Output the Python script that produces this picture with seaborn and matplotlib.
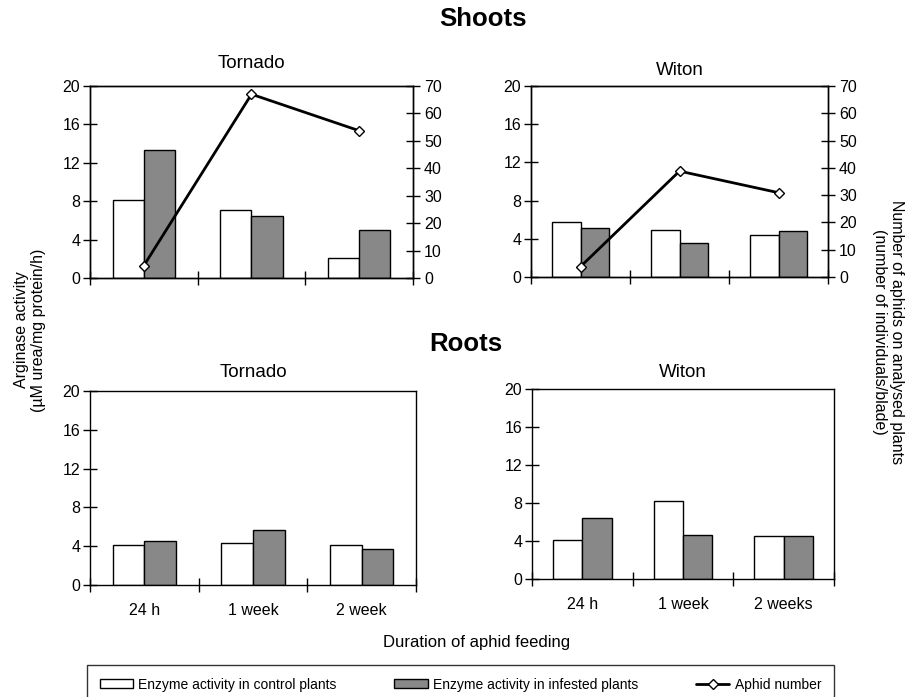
import pandas as pd
import numpy as np
import matplotlib
matplotlib.use("Agg")
import matplotlib.pyplot as plt
import seaborn as sns
from matplotlib.patches import Patch
from matplotlib.lines import Line2D

# durations on the x axis
durations_left = ["24 h", "1 week", "2 week"]
durations_right = ["24 h", "1 week", "2 weeks"]

# arginase activity (uM urea/mg protein/h)
shoots_tornado_control = [8.1, 7.1, 2.1]
shoots_tornado_infested = [13.3, 6.5, 5.0]
shoots_witon_control = [5.8, 4.9, 4.4]
shoots_witon_infested = [5.1, 3.6, 4.8]
roots_tornado_control = [4.1, 4.3, 4.1]
roots_tornado_infested = [4.5, 5.7, 3.7]
roots_witon_control = [4.1, 8.2, 4.5]
roots_witon_infested = [6.4, 4.6, 4.5]

# aphid number (individuals/blade), shoots only
aphids_tornado = [4.5, 67, 53.7]
aphids_witon = [3.8, 38.8, 30.9]

treatments = ["control", "infested"]
palette = {"control": "white", "infested": "#888888"}

sns.set_theme(style="white")
plt.rcParams["font.family"] = ["Liberation Sans", "DejaVu Sans"]
plt.rcParams["axes.edgecolor"] = "black"
plt.rcParams["axes.linewidth"] = 1.0
plt.rcParams["text.color"] = "black"
plt.rcParams["axes.labelcolor"] = "black"
plt.rcParams["xtick.color"] = "black"
plt.rcParams["ytick.color"] = "black"


def make_df(labels, control, infested):
    rows = []
    for lab, c, i in zip(labels, control, infested):
        rows.append({"duration": lab, "treatment": "control", "activity": c})
        rows.append({"duration": lab, "treatment": "infested", "activity": i})
    return pd.DataFrame(rows)


def draw_panel(ax, labels, control, infested, title, title_pad, show_labels):
    df = make_df(labels, control, infested)
    sns.barplot(data=df, x="duration", y="activity", hue="treatment",
                order=labels, hue_order=treatments, palette=palette,
                width=0.58, edgecolor="black", linewidth=1.0,
                errorbar=None, legend=False, ax=ax)
    ax.set_xlim(-0.5, 2.5)
    ax.set_ylim(0, 20)
    ax.set_yticks([0, 4, 8, 12, 16, 20])
    ax.set_xticks([-0.5, 0.5, 1.5, 2.5])
    ax.set_xticklabels([])
    ax.tick_params(axis="both", which="major", direction="inout", length=10,
                   width=1, color="black", labelcolor="black",
                   labelsize=11.5, pad=2, left=True, bottom=True)
    if show_labels:
        ax.set_xticks([0, 1, 2], labels, minor=True)
        ax.tick_params(axis="x", which="minor", length=0, pad=13,
                       labelsize=11.5, labelcolor="black", bottom=True)
    ax.set_xlabel("")
    ax.set_ylabel("")
    ax.set_title(title, fontsize=13.5, pad=title_pad, color="black")
    for s in ax.spines.values():
        s.set_visible(True)
        s.set_color("black")


def draw_aphids(ax, aphids):
    ax2 = ax.twinx()
    sns.lineplot(x=[0, 1, 2], y=aphids, ax=ax2, color="black", linewidth=2,
                 marker="D", markersize=5.5, markerfacecolor="white",
                 markeredgecolor="black", markeredgewidth=1)
    ax2.set_xlim(-0.5, 2.5)
    ax2.set_ylim(0, 70)
    ax2.set_yticks(range(0, 71, 10))
    ax2.tick_params(axis="y", direction="inout", length=10, width=1,
                    color="black", labelcolor="black", labelsize=11.5, pad=3,
                    right=True)
    ax2.set_ylabel("")
    return ax2


W, H = 915, 697
fig = plt.figure(figsize=(W / 100, H / 100), dpi=100)


def box(x0, x1, ytop, ybot):
    return [x0 / W, 1 - ybot / H, (x1 - x0) / W, (ybot - ytop) / H]


ax_st = fig.add_axes(box(90, 413, 86, 278))
ax_sw = fig.add_axes(box(531, 828, 86, 277))
ax_rt = fig.add_axes(box(90, 416, 391, 585))
ax_rw = fig.add_axes(box(532, 834, 389, 579))

draw_panel(ax_st, durations_left, shoots_tornado_control, shoots_tornado_infested,
           "Tornado", 13, False)
draw_aphids(ax_st, aphids_tornado)
draw_panel(ax_sw, durations_right, shoots_witon_control, shoots_witon_infested,
           "Witon", 8, False)
draw_aphids(ax_sw, aphids_witon)
draw_panel(ax_rt, durations_left, roots_tornado_control, roots_tornado_infested,
           "Tornado", 10, True)
draw_panel(ax_rw, durations_right, roots_witon_control, roots_witon_infested,
           "Witon", 8.5, True)

fig.text(483 / W, 1 - 19 / H, "Shoots", ha="center", va="center",
         fontsize=18.5, fontweight="bold")
fig.text(466 / W, 1 - 344 / H, "Roots", ha="center", va="center",
         fontsize=18.5, fontweight="bold")
fig.text(30 / W, 1 - 330 / H, "Arginase activity\n(µM urea/mg protein/h)",
         rotation=90, ha="center", va="center", fontsize=11.5, linespacing=1.15)
fig.text(888 / W, 1 - 332 / H,
         "Number of aphids on analysed plants\n(number of individuals/blade)",
         rotation=270, ha="center", va="center", fontsize=11.5, linespacing=1.15)
fig.text(477 / W, 1 - 643 / H, "Duration of aphid feeding", ha="center",
         va="center", fontsize=12)

handles = [
    Patch(facecolor="white", edgecolor="black", linewidth=1,
          label="Enzyme activity in control plants"),
    Patch(facecolor="#888888", edgecolor="black", linewidth=1,
          label="Enzyme activity in infested plants"),
    Line2D([], [], color="black", linewidth=2, marker="D", markersize=5,
           markerfacecolor="white", markeredgecolor="black",
           label="Aphid number"),
]
leg = fig.legend(handles=handles, loc="upper left", ncol=3, mode="expand",
                 bbox_to_anchor=(87 / W, 1 - 666 / H, 747 / W, 0.001),
                 fontsize=10, frameon=True, fancybox=False, edgecolor="black",
                 handlelength=2.4, handleheight=0.6, handletextpad=0.4,
                 borderpad=0.9, borderaxespad=0, columnspacing=3)
leg.get_frame().set_linewidth(1)
for t in leg.get_texts():
    t.set_color("black")

fig.savefig("out.png", dpi=100)
